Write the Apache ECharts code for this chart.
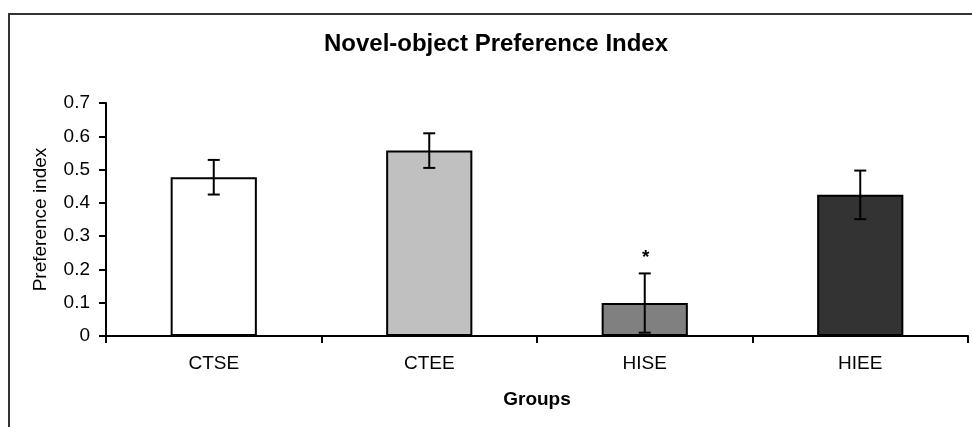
<!DOCTYPE html>
<html>
<head>
<meta charset="utf-8">
<style>
  html, body { margin: 0; padding: 0; background: #ffffff; }
  #chart { width: 972px; height: 427px; }
</style>
<script src="https://cdn.jsdelivr.net/npm/echarts@6/dist/echarts.min.js"></script>
</head>
<body>
<div id="chart"></div>
<script>
// groups and values
const groups = ["CTSE", "CTEE", "HISE", "HIEE"];
const preference = [0.477, 0.557, 0.099, 0.424];
const errors = [0.052, 0.052, 0.089, 0.073];
const sigMarks = ["", "", "*", ""];
const barColors = ["#ffffff", "#c0c0c0", "#808080", "#333333"];
const yTicks = [0, 0.1, 0.2, 0.3, 0.4, 0.5, 0.6, 0.7];

const chart = echarts.init(document.getElementById("chart"));

const fontFam = "Liberation Sans, Arial, sans-serif";

const errData = groups.map((g, i) => [i, preference[i], errors[i], sigMarks[i]]);

const option = {
  animation: false,
  backgroundColor: "#ffffff",
  graphic: [
    {
      type: "rect",
      shape: { x: 9, y: 14, width: 1000, height: 450 },
      style: { fill: "none", stroke: "#333333", lineWidth: 2 },
      silent: true,
    },
    {
      // chart title
      type: "text",
      x: 496,
      y: 44,
      style: {
        text: "Novel-object Preference Index",
        align: "center",
        verticalAlign: "middle",
        font: "bold 24px " + fontFam,
        fill: "#000000",
      },
      silent: true,
    },
  ],
  grid: {
    left: 106,
    right: 4,
    top: 103,
    bottom: 91,
  },
  xAxis: {
    type: "category",
    data: groups,
    boundaryGap: true,
    name: "Groups",
    nameLocation: "middle",
    nameGap: 54,
    nameTextStyle: {
      fontFamily: fontFam,
      fontSize: 19,
      fontWeight: "bold",
      color: "#000000",
    },
    axisLine: { lineStyle: { color: "#000000", width: 2 } },
    axisTick: { show: true, length: 7, lineStyle: { color: "#000000", width: 2 } },
    axisLabel: {
      margin: 18,
      fontFamily: fontFam,
      fontSize: 19,
      color: "#000000",
    },
  },
  yAxis: {
    type: "value",
    min: yTicks[0],
    max: yTicks[yTicks.length - 1],
    interval: 0.1,
    name: "Preference index",
    nameLocation: "middle",
    nameGap: 56,
    nameRotate: 90,
    nameTextStyle: {
      fontFamily: fontFam,
      fontSize: 19,
      color: "#000000",
    },
    axisLine: { show: true, lineStyle: { color: "#000000", width: 2 } },
    axisTick: { show: true, length: 7, lineStyle: { color: "#000000", width: 2 } },
    splitLine: { show: false },
    axisLabel: {
      margin: 16,
      fontFamily: fontFam,
      fontSize: 19,
      color: "#000000",
      formatter: (v) => String(Math.round(v * 10) / 10),
    },
  },
  series: [
    {
      type: "bar",
      barWidth: "40%",
      data: preference.map((v, i) => ({
        value: v,
        itemStyle: { color: barColors[i] },
      })),
      itemStyle: { borderColor: "#000000", borderWidth: 2 },
      z: 2,
    },
    {
      type: "custom",
      data: errData,
      z: 5,
      renderItem: function (params, api) {
        const idx = api.value(0);
        const mean = api.value(1);
        const err = api.value(2);
        const top = api.coord([idx, mean + err]);
        const bot = api.coord([idx, mean - err]);
        const cap = 6;
        const style = { stroke: "#000000", lineWidth: 2 };
        const children = [
          { type: "line", shape: { x1: top[0], y1: top[1], x2: bot[0], y2: bot[1] }, style },
          { type: "line", shape: { x1: top[0] - cap, y1: top[1], x2: top[0] + cap, y2: top[1] }, style },
          { type: "line", shape: { x1: bot[0] - cap, y1: bot[1], x2: bot[0] + cap, y2: bot[1] }, style },
        ];
        const mark = sigMarks[params.dataIndex];
        if (mark) {
          children.push({
            type: "text",
            style: {
              text: mark,
              x: top[0] + 1,
              y: top[1] - 16,
              align: "center",
              verticalAlign: "middle",
              font: "bold 19px " + fontFam,
              fill: "#000000",
            },
          });
        }
        return { type: "group", children };
      },
    },
  ],
};

chart.setOption(option);
</script>
</body>
</html>
